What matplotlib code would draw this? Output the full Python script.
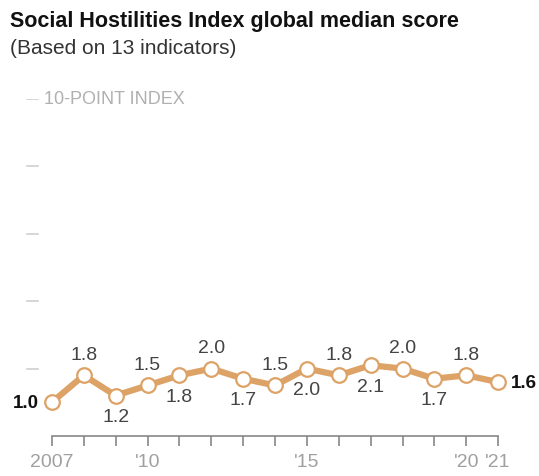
from matplotlib import pyplot as plt

# Social Hostilities Index, global median (0-10 scale)
years = [2007, 2008, 2009, 2010, 2011, 2012, 2013, 2014,
         2015, 2016, 2017, 2018, 2019, 2020, 2021]
scores = [1.0, 1.8, 1.2, 1.5, 1.8, 2.0, 1.7, 1.5,
          2.0, 1.8, 2.1, 2.0, 1.7, 1.8, 1.6]
ygrid = [2, 4, 6, 8, 10]
xticklabels = {2007: '2007', 2010: "'10", 2015: "'15", 2020: "'20", 2021: "'21"}

orange = '#DDA266'
plt.rcParams['font.family'] = ['Liberation Sans', 'DejaVu Sans']

fig = plt.figure(figsize=(5.39, 4.77), dpi=100)
ax = fig.add_axes([20/539, 40/477, 510/539, 337/477])
ax.set_xlim(2006, 2022)
ax.set_ylim(0, 10)

# short grey dashes instead of gridlines
for g in ygrid:
    ax.axhline(g, xmin=0.014, xmax=0.036, color='#d0d0d0', lw=1.2)
ax.text(0.048, 10, '10-POINT INDEX', transform=ax.get_yaxis_transform(),
        va='center', ha='left', fontsize=13, color='#b0b0b0')

ax.plot(years, scores, color=orange, lw=4.5, marker='o', ms=10.5,
        mfc='white', mec=orange, mew=1.6, zorder=3, solid_capstyle='round')

for i, (yr, v) in enumerate(zip(years, scores)):
    if i == 0:
        ax.annotate(f'{v:.1f}', (yr, v), xytext=(-9, 0), textcoords='offset points',
                    ha='right', va='center', fontsize=13.5, fontweight='bold', color='#111')
    elif i == len(years) - 1:
        ax.annotate(f'{v:.1f}', (yr, v), xytext=(9, 0), textcoords='offset points',
                    ha='left', va='center', fontsize=13.5, fontweight='bold', color='#111')
    else:
        dy = 15 if i % 2 == 1 else -15
        ax.annotate(f'{v:.1f}', (yr, v), xytext=(0, dy), textcoords='offset points',
                    ha='center', va='center', fontsize=14, color='#444')

for s in ['left', 'right', 'top']:
    ax.spines[s].set_visible(False)
ax.spines['bottom'].set_bounds(years[0], years[-1])
ax.spines['bottom'].set_color('#888')
ax.spines['bottom'].set_linewidth(1.2)
ax.set_yticks([])
ax.set_xticks(years)
ax.set_xticklabels([xticklabels.get(y, '') for y in years])
ax.tick_params(axis='x', direction='out', length=7, width=1.2, color='#888',
               pad=5, labelsize=14, labelcolor='#a0a0a0')

fig.text(10/539, 1 - 22/477, 'Social Hostilities Index global median score',
         fontsize=15.5, fontweight='bold', color='#111', va='center', ha='left')
fig.text(10/539, 1 - 49/477, '(Based on 13 indicators)',
         fontsize=15, color='#333', va='center', ha='left')

plt.savefig('out.png', dpi=100)
